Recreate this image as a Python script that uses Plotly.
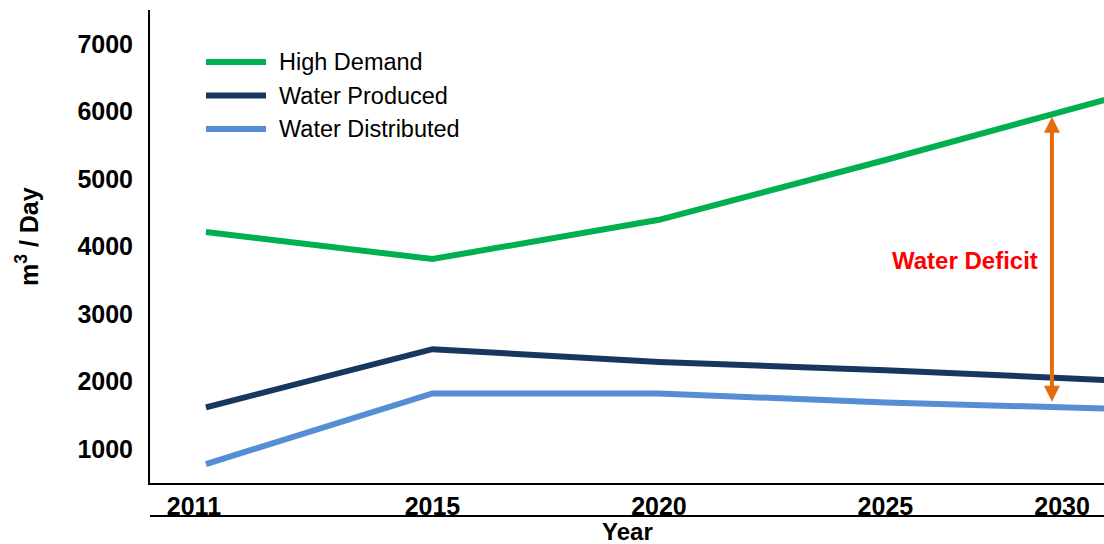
import plotly.graph_objects as go

# ---- data ----
years = ["2011", "2015", "2020", "2025", "2030"]
high_demand = [4215, 3815, 4395, 5280, 6200]
water_produced = [1620, 2480, 2290, 2170, 2020]
water_distributed = [780, 1825, 1825, 1690, 1600]
series_names = ["High Demand", "Water Produced", "Water Distributed"]
y_ticks = [1000, 2000, 3000, 4000, 5000, 6000, 7000]
deficit_label = "Water Deficit"

colors = ["#00B050", "#17375E", "#558ED5"]
FONT = "Arial, Liberation Sans, sans-serif"

xidx = list(range(len(years)))
fig = go.Figure()
for name, vals, col in zip(series_names, [high_demand, water_produced, water_distributed], colors):
    fig.add_trace(go.Scatter(x=xidx, y=vals, mode="lines", name=name,
                             line=dict(color=col, width=6), showlegend=False))

# tick label placement (category labels sit slightly off the data columns at the ends)
label_pos = [-0.053, 1.0, 2.0, 3.0, 3.78]

fig.update_layout(
    width=1104, height=544,
    margin=dict(l=150, r=0, t=10, b=61),
    plot_bgcolor="white", paper_bgcolor="white",
    xaxis=dict(range=[-0.247, 3.965], showgrid=False, zeroline=False,
               showline=True, linecolor="black", linewidth=2,
               tickmode="array", tickvals=label_pos, ticktext=years,
               ticks="", tickfont=dict(family=FONT, size=25, color="black", weight="bold")),
    yaxis=dict(range=[500, 7500], showgrid=False, zeroline=False,
               showline=True, linecolor="black", linewidth=2,
               tickmode="array", tickvals=y_ticks, ticks="",
               ticklabelstandoff=10,
               tickfont=dict(family=FONT, size=25, color="black", weight="bold")),
    showlegend=False,
)

# second rule beneath the year labels
fig.add_shape(type="line", xref="paper", yref="paper", x0=0, x1=1,
              y0=-33/473, y1=-33/473, line=dict(color="black", width=2))

# axis titles
fig.add_annotation(text="Year", xref="paper", yref="paper", x=(627-150)/954, y=-48/473,
                   showarrow=False, font=dict(family=FONT, size=24, color="black", weight="bold"),
                   xanchor="center", yanchor="middle")
fig.add_annotation(text="m<sup>3</sup> / Day", xref="paper", yref="paper", x=-123/954,
                   y=(483-237)/473, textangle=-90, showarrow=False,
                   font=dict(family=FONT, size=25, color="black", weight="bold"),
                   xanchor="center", yanchor="middle")

# custom legend
for i, (name, col) in enumerate(zip(series_names, colors)):
    ypix = 62 + 33.5 * i
    yp = (483 - ypix) / 473
    fig.add_shape(type="line", xref="paper", yref="paper",
                  x0=(206-150)/954, x1=(266-150)/954, y0=yp, y1=yp,
                  line=dict(color=col, width=6))
    fig.add_annotation(text=name, xref="paper", yref="paper", x=(277-150)/954, y=yp,
                       xanchor="left", yanchor="middle", showarrow=False,
                       font=dict(family=FONT, size=23.5, color="black"))

# water deficit arrow
arrow_x = 3.735
fig.add_annotation(x=arrow_x, y=5920, ax=arrow_x, ay=1680, xref="x", yref="y",
                   axref="x", ayref="y", text="", showarrow=True,
                   arrowside="end+start", arrowhead=2, startarrowhead=2,
                   arrowsize=0.8, startarrowsize=0.8, arrowwidth=4,
                   arrowcolor="#E46C0A", standoff=0, startstandoff=0)
fig.add_annotation(x=arrow_x - 0.385, y=3790, xref="x", yref="y", text=deficit_label,
                   showarrow=False, font=dict(family=FONT, size=24, color="#FF0000", weight="bold"),
                   xanchor="center", yanchor="middle")

fig.write_html("out.html")
